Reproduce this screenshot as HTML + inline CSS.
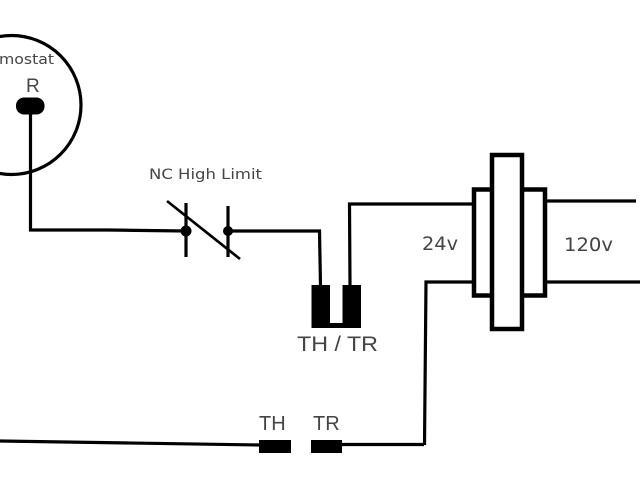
<!DOCTYPE html>
<html>
<head>
<meta charset="utf-8">
<style>
html,body{margin:0;padding:0;background:#fff;width:640px;height:480px;overflow:hidden}
svg{display:block;filter:blur(0.35px)}
text{font-family:"DejaVu Sans","Liberation Sans",sans-serif;fill:#444}
</style>
</head>
<body>
<svg width="640" height="480" viewBox="0 0 640 480" xmlns="http://www.w3.org/2000/svg">
<circle cx="11.500" cy="105" r="69.500" fill="none" stroke="#000" stroke-width="3.200"/>
<text x="-1" y="64" font-size="14" textLength="55" lengthAdjust="spacingAndGlyphs">mostat</text>
<text x="26" y="92" font-size="19" style="font-family:'Liberation Sans',sans-serif">R</text>
<rect x="16" y="97.500" width="28.500" height="17" rx="8" ry="8" fill="#000"/>
<g fill="none" stroke="#000" stroke-linejoin="miter">
<path d="M30.500 110V230H108L186 231" stroke-width="3.200"/>
<path d="M186 203V257M228 206V257" stroke-width="3.200"/>
<path d="M167 201L240 259" stroke-width="2.700"/>
<path d="M228 231H319.500L320.500 286" stroke-width="3.200"/>
<path d="M350 286L349.500 204H472" stroke-width="3.200"/>
<path d="M424.500 445L426 282H472" stroke-width="3.200"/>
<path d="M546 201H636" stroke-width="3.200"/>
<path d="M546 282H640" stroke-width="3.200"/>
<path d="M0 441L260 445" stroke-width="3.200"/>
<path d="M340 444.500H424" stroke-width="3.200"/>
</g>
<circle cx="186" cy="231" r="5.500" fill="#000"/>
<circle cx="228" cy="231" r="5" fill="#000"/>
<text x="149" y="179" font-size="14" textLength="113" lengthAdjust="spacingAndGlyphs">NC High Limit</text>
<rect x="311.500" y="285" width="49.500" height="43" fill="#000"/>
<rect x="330" y="285" width="12.500" height="38" fill="#fff"/>
<text x="297" y="351" font-size="21" style="font-family:'Liberation Sans',sans-serif" textLength="81" lengthAdjust="spacingAndGlyphs">TH / TR</text>
<rect x="474" y="189.500" width="71" height="106" fill="#fff" stroke="#000" stroke-width="4.500"/>
<rect x="492" y="155" width="30" height="174" fill="#fff" stroke="#000" stroke-width="4.500"/>
<text x="422" y="250" font-size="18.500" textLength="36" lengthAdjust="spacingAndGlyphs">24v</text>
<text x="564" y="251" font-size="19" textLength="49" lengthAdjust="spacingAndGlyphs">120v</text>
<rect x="259" y="440" width="32" height="13" fill="#000"/>
<rect x="311" y="440" width="31" height="13" fill="#000"/>
<text x="259" y="430" font-size="20" style="font-family:'Liberation Sans',sans-serif">TH</text>
<text x="313" y="430" font-size="20" style="font-family:'Liberation Sans',sans-serif">TR</text>
</svg>
</body>
</html>
